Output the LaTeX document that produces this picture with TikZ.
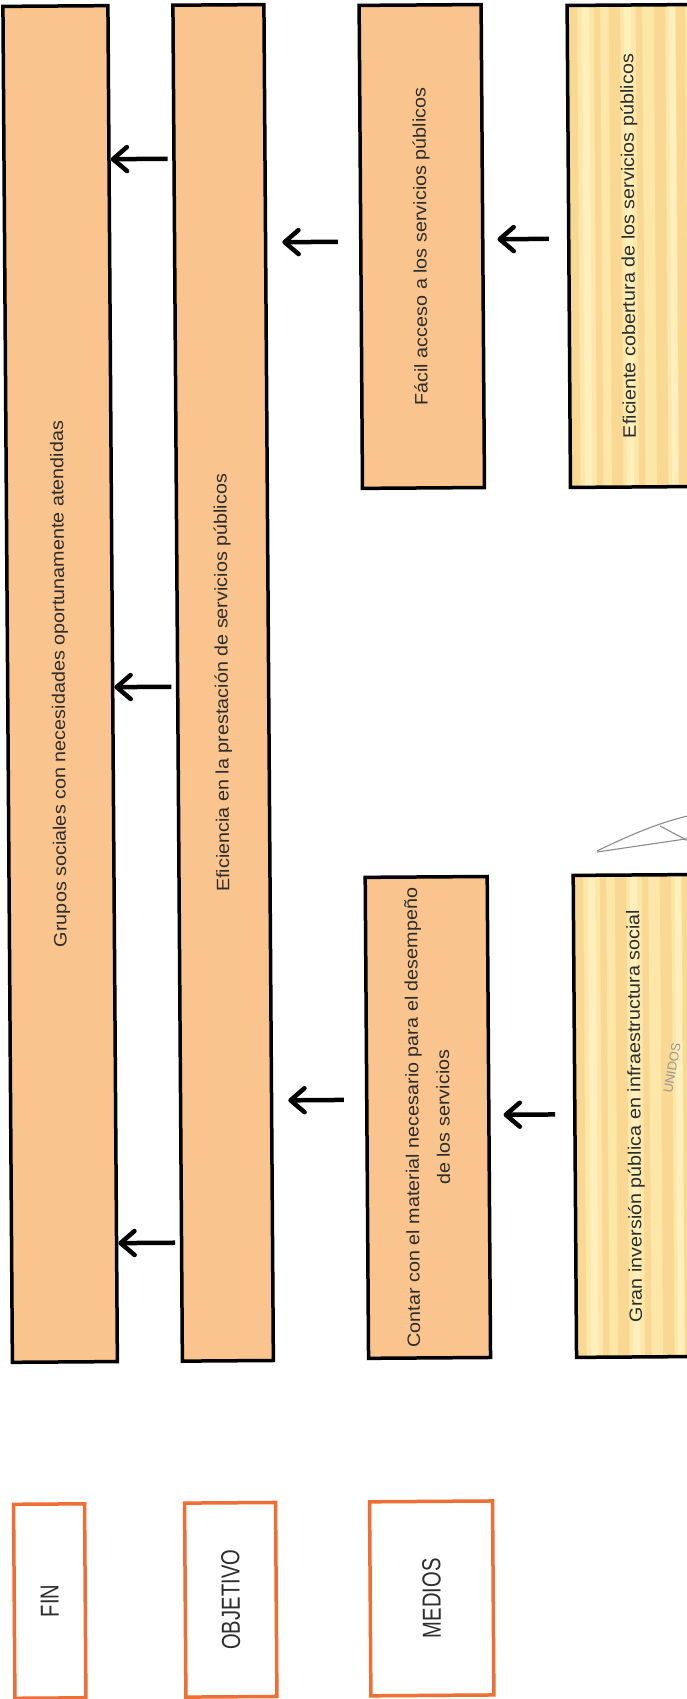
\documentclass[tikz,border=0pt]{standalone}
\usepackage{fontspec}
\setmainfont{Liberation Sans}
\usetikzlibrary{arrows.meta}
\definecolor{peach}{RGB}{249,196,141}
\definecolor{ybase}{RGB}{252,231,168}
\definecolor{ystripe}{RGB}{248,216,146}
\definecolor{ylight}{RGB}{254,239,188}
\definecolor{lblorange}{RGB}{238,110,52}
\definecolor{inkgray}{RGB}{45,45,45}
\newcommand{\boxtxt}[1]{\rotatebox{90}{\scalebox{1.1}[1]{\fontsize{18}{31}\selectfont\color{inkgray}#1}}}
\newcommand{\boxtwo}[2]{\rotatebox{90}{\scalebox{1.1}[1]{\fontsize{18}{31}\selectfont\color{inkgray}\begin{tabular}{@{}c@{}}#1\\#2\end{tabular}}}}
\newcommand{\lbltxt}[1]{\rotatebox{90}{\scalebox{0.78}[1]{\fontsize{26}{30}\selectfont\color{inkgray}#1}}}
\tikzset{
  mainbox/.style={draw=black, line width=3.5pt, fill=peach, inner sep=0pt},
  ybox/.style={mainbox, fill=ybase, path picture={
      \foreach \a/\b/\c in {3/10/ystripe, 18/22/ylight, 30/33/ystripe, 45/53/ystripe, 60/64/ylight, 72/75/ystripe, 90/98/ystripe, 105/108/ylight, 112/118/ystripe}
        \fill[\c] ([xshift=\a pt]path picture bounding box.south west) rectangle ([xshift=\b pt]path picture bounding box.north west);
    }},
  lblbox/.style={draw=lblorange, line width=3.5pt, fill=white, inner sep=0pt},
  arr/.style={line width=4.5pt, -{Straight Barb[length=14pt,width=24pt,round]}},
  scribble/.style={draw=black!45, line width=1.1pt},
  stamp/.style={text=black!40, font=\fontsize{13}{13}\selectfont}
}
\begin{document}
\begin{tikzpicture}[x=1pt,y=1pt]
\path[use as bounding box] (0,0) rectangle (687,-1699);
\fill[white] (0,0) rectangle (687,-1699);
\clip (0,0) rectangle (687,-1699);
\begin{scope}[rotate around={0.4:(343.5,-849.5)}, transform shape]
  % main column boxes
  \node[mainbox, minimum width=105pt, minimum height=1356pt] (bA) at (61.3,-682)
    {\boxtxt{Grupos sociales con necesidades oportunamente atendidas}};
  \node[mainbox, minimum width=91pt, minimum height=1356pt] (bB) at (224.3,-682)
    {\boxtxt{Eficiencia en la prestación de servicios públicos}};
  \node[mainbox, minimum width=122pt, minimum height=483pt] (c3u) at (426,-247)
    {\boxtxt{Fácil acceso a los servicios públicos}};
  \node[mainbox, minimum width=122pt, minimum height=481pt] (c3l) at (426,-1118)
    {\boxtwo{Contar con el material necesario para el desempeño}{de los servicios}};
  \node[ybox, minimum width=122pt, minimum height=482pt] (c4u) at (634,-248)
    {\boxtxt{Eficiente cobertura de los servicios públicos}};
  \node[ybox, minimum width=122pt, minimum height=482pt] (c4l) at (634,-1118)
    {\boxtxt{Gran inversión pública en infraestructura social}};
  % label boxes
  \node[lblbox, minimum width=71pt, minimum height=194pt] (lFIN) at (44.5,-1599) {\lbltxt{FIN}};
  \node[lblbox, minimum width=91pt, minimum height=194pt] (lOBJ) at (225.5,-1599) {\lbltxt{OBJETIVO}};
  \node[lblbox, minimum width=123pt, minimum height=194pt] (lMED) at (426.5,-1599) {\lbltxt{MEDIOS}};
  % arrows
  \draw[arr, shorten <=4.6pt] ([yshift=524.4pt]bB.west) -- ([yshift=524.4pt]bA.east);
  \draw[arr, shorten <=4.6pt] ([yshift=-3.6pt]bB.west) -- ([yshift=-3.6pt]bA.east);
  \draw[arr, shorten <=4.6pt] ([yshift=-559.6pt]bB.west) -- ([yshift=-559.6pt]bA.east);
  \draw[arr, shorten <=21pt, shorten >=15pt] ([yshift=5.2pt]c3u.west) -- ([yshift=440.2pt]bB.east);
  \draw[arr, shorten <=21pt, shorten >=15pt] ([yshift=18pt]c3l.west) -- ([yshift=-418pt]bB.east);
  \draw[arr, shorten <=18pt, shorten >=13pt] ([yshift=7.7pt]c4u.west) -- ([yshift=6.7pt]c3u.east);
  \draw[arr, shorten <=18pt, shorten >=13pt] ([yshift=2pt]c4l.west) -- ([yshift=2pt]c3l.east);
\end{scope}
% faint scan marks (signature stroke and stamp)
\draw[scribble] (597,-851) .. controls (630,-835) and (660,-822) .. (692,-815);
\draw[scribble] (597,-852) -- (692,-838);
\draw[scribble] (660,-826) -- (692,-843);
\node[stamp, rotate=80] (stampTxt) at (672,-1068) {UNIDOS};
\end{tikzpicture}
\end{document}
